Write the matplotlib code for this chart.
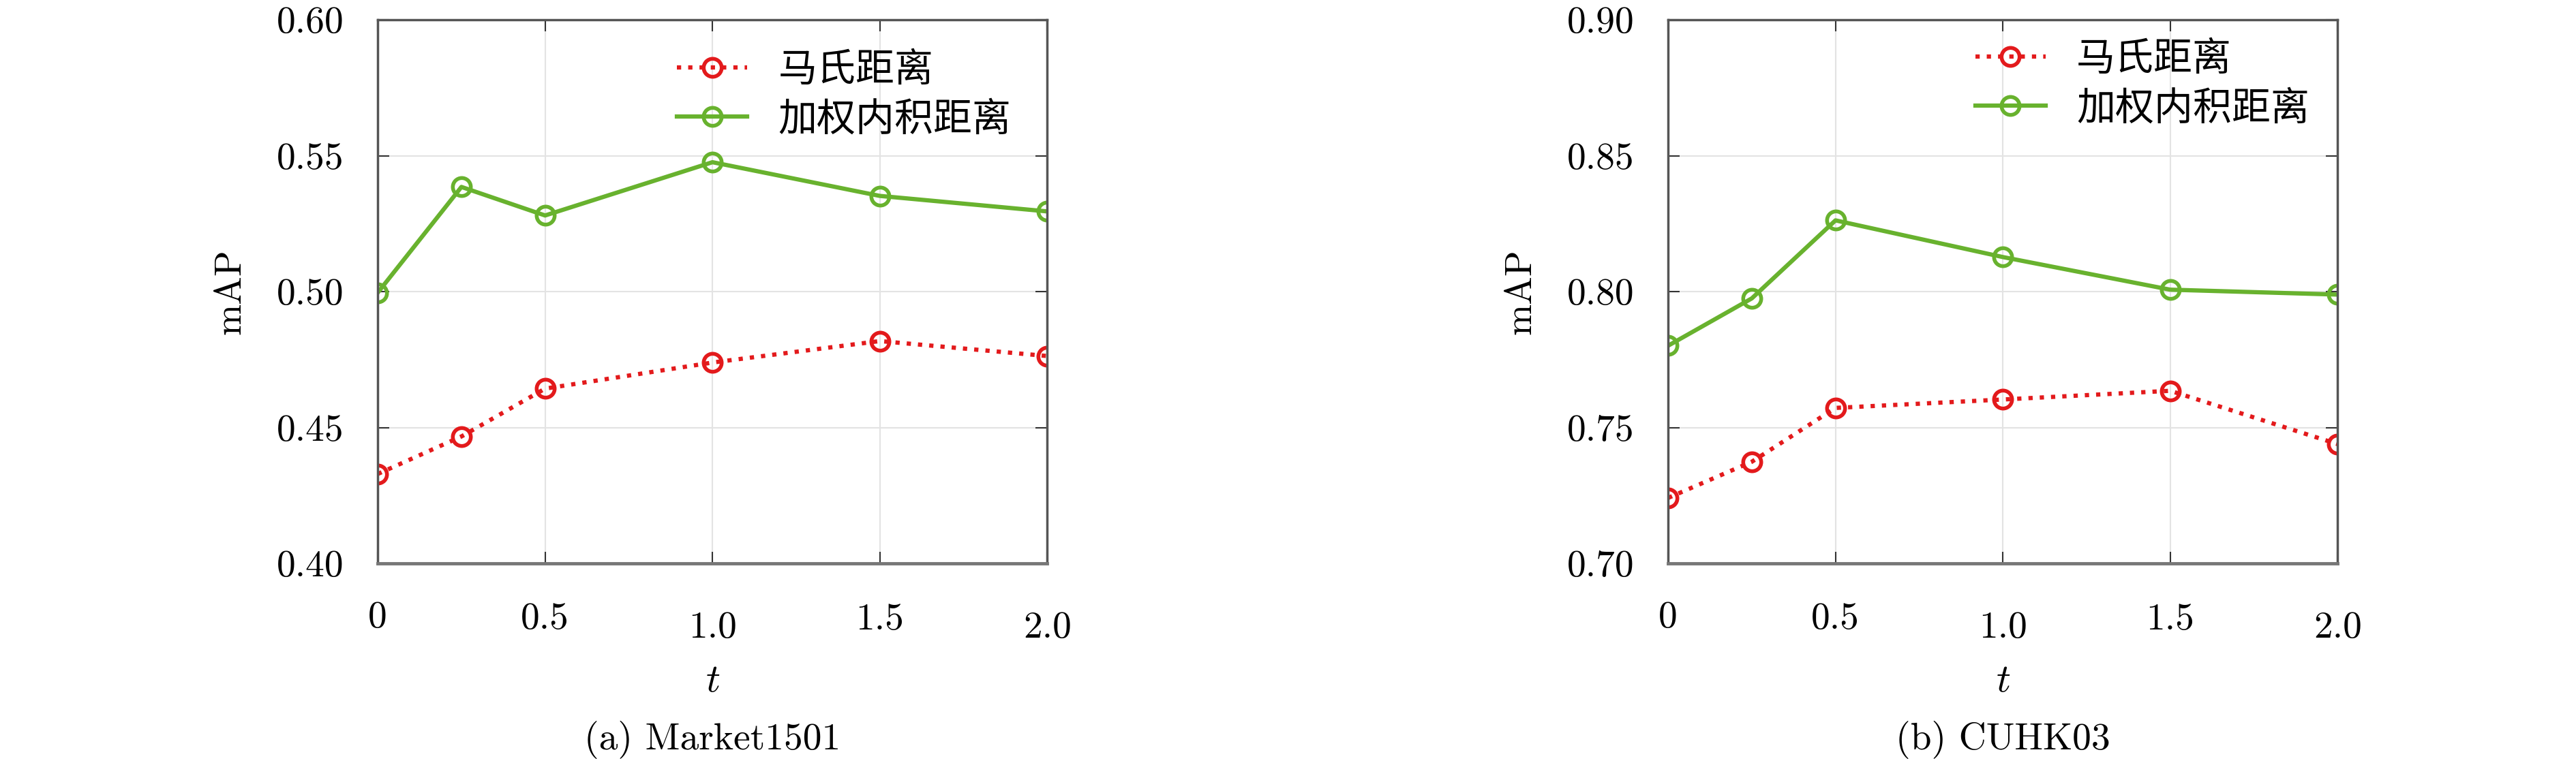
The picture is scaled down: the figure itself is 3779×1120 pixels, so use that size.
import matplotlib
matplotlib.use('Agg')
import matplotlib.pyplot as plt
from matplotlib.transforms import ScaledTranslation

plt.rcParams['font.family'] = ['cmr10', 'DejaVu Serif']
plt.rcParams['mathtext.fontset'] = 'cm'
plt.rcParams['axes.formatter.use_mathtext'] = True

# 数据
t = [0, 0.25, 0.5, 1.0, 1.5, 2.0]
xticks = [0, 0.5, 1.0, 1.5, 2.0]
xticklabels = ['0', '0.5', '1.0', '1.5', '2.0']
series_names = ['马氏距离', '加权内积距离']

market_maha = [0.4329, 0.4467, 0.4643, 0.4739, 0.4818, 0.4763]
market_wip = [0.4996, 0.5385, 0.5280, 0.5476, 0.5352, 0.5295]
market_yticks = [0.40, 0.45, 0.50, 0.55, 0.60]

cuhk_maha = [0.7241, 0.7374, 0.7572, 0.7603, 0.7635, 0.7439]
cuhk_wip = [0.7801, 0.7975, 0.8262, 0.8127, 0.8007, 0.7989]
cuhk_yticks = [0.70, 0.75, 0.80, 0.85, 0.90]

captions = ['(a) Market1501', '(b) CUHK03']

red = '#e31a1c'
green = '#68b22e'

fig = plt.figure(figsize=(37.8, 11.2), dpi=100)
ax1 = fig.add_axes([0.1466, 0.2616, 0.2598, 0.7125])
ax2 = fig.add_axes([0.6474, 0.2616, 0.2598, 0.7125])

panels = [
    (ax1, market_maha, market_wip, market_yticks, captions[0], (0.395, 1.009)),
    (ax2, cuhk_maha, cuhk_wip, cuhk_yticks, captions[1], (0.407, 1.029)),
]

# 刻度标签上下错位(原图如此)
label_dy = [0, -2, -15, -3, -15]

for ax, maha, wip, yt, cap, leg_pos in panels:
    ax.plot(t, maha, color=red, ls=':', lw=4.5, marker='o', ms=19,
            mfc='none', mew=4, label=series_names[0])
    ax.plot(t, wip, color=green, ls='-', lw=4.5, marker='o', ms=19,
            mfc='none', mew=4, label=series_names[1])
    ax.set_xlim(0, 2.0)
    ax.set_ylim(yt[0], yt[-1])
    ax.set_xticks(xticks)
    ax.set_xticklabels(xticklabels)
    ax.set_yticks(yt)
    ax.set_yticklabels(['%.2f' % v for v in yt])
    ax.grid(True, color='#e3e3e3', lw=1.5)
    ax.set_axisbelow(True)
    ax.tick_params(direction='in', top=True, right=True, length=12, width=1.5,
                   color='#333333', labelsize=40)
    ax.tick_params(axis='x', pad=40)
    ax.tick_params(axis='y', pad=36)
    for s in ax.spines.values():
        s.set_color('#555555')
        s.set_linewidth(2.5)
    ax.spines['bottom'].set_color('#777777')
    ax.spines['bottom'].set_linewidth(3.5)
    ax.set_xlabel(r'$t$', fontsize=42, labelpad=20)
    ax.set_ylabel('mAP', fontsize=40, labelpad=30)
    for lab, dy in zip(ax.get_xticklabels(), label_dy):
        lab.set_transform(lab.get_transform() + ScaledTranslation(0, dy / 100, fig.dpi_scale_trans))
    leg = ax.legend(loc='upper left', bbox_to_anchor=leg_pos, frameon=False,
                    prop={'family': ['Noto Sans CJK SC'], 'size': 41},
                    handlelength=1.8, handletextpad=0.8, labelspacing=0.25)
    ax.text(0.5, -0.325, cap, transform=ax.transAxes, ha='center', va='center',
            fontsize=40)

fig.savefig('out.png', dpi=100)
